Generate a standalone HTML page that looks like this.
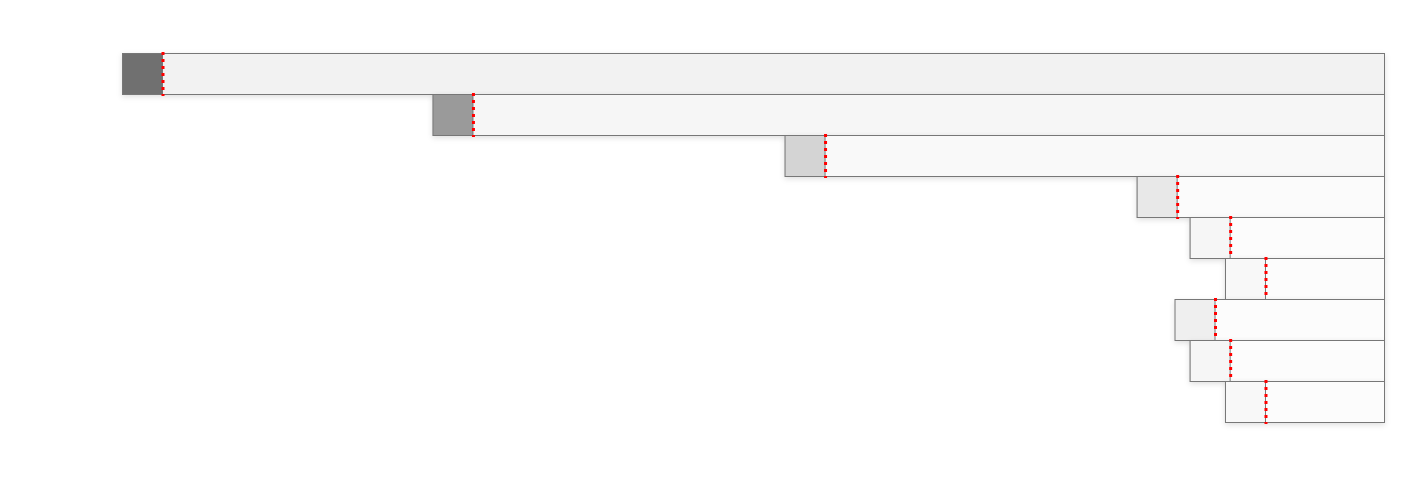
<!DOCTYPE html>
<html><head><meta charset="utf-8"><style>
html,body{margin:0;padding:0;background:#fff;width:1420px;height:477px;overflow:hidden;font-family:"Liberation Sans",sans-serif}
</style></head><body>
<svg id="chart" width="1420" height="477" xmlns="http://www.w3.org/2000/svg">
<defs>
<filter id="sh" x="-10%" y="-30%" width="130%" height="180%"><feDropShadow dx="0" dy="2" stdDeviation="3" flood-color="#000" flood-opacity="0.12"/></filter>
</defs>
<g id="rows"></g>
</svg>
<script>
const categories = ["r1","r2","r3","r4","r5","r6","r7","r8","r9"];
const startValues = [0, 24.6, 52.5, 80.4, 84.6, 87.4, 83.4, 84.6, 87.4];
const endValues = [100,100,100,100,100,100,100,100,100];
const squareFills = ["#707070","#9a9a9a","#d4d4d4","#e8e8e8","#f6f6f6","#f8f8f8","#efefef","#f6f6f6","#f8f8f8"];
const bandFills = ["#f2f2f2","#f6f6f6","#f9f9f9","#fbfbfb","#fcfcfc","#fcfcfc","#fcfcfc","#fcfcfc","#fcfcfc"];
const X0=122, X1=1384, Y0=53, RH=41, SQ=40;
function xs(v){return X0+(v/100)*(X1-X0);}
function ys(i){return Y0+i*RH;}
const g=document.getElementById('rows');
const NS='http://www.w3.org/2000/svg';
categories.forEach((c,i)=>{
  const x=xs(startValues[i]), xe=xs(endValues[i]), y=ys(i);
  const grp=document.createElementNS(NS,'g');
  
  
  const band=document.createElementNS(NS,'rect');
  
  
  band.setAttribute('x',x+0.5);band.setAttribute('y',y+0.5);
  band.setAttribute('width',xe-x);band.setAttribute('height',RH);
  band.setAttribute('fill',bandFills[i]);band.setAttribute('stroke','#777');band.setAttribute('stroke-width','1');
  band.setAttribute('filter','url(#sh)');
  grp.appendChild(band);
  const sq=document.createElementNS(NS,'rect');
  
  
  sq.setAttribute('x',x+0.5);sq.setAttribute('y',y+0.5);
  sq.setAttribute('width',SQ);sq.setAttribute('height',RH);
  sq.setAttribute('fill',squareFills[i]);sq.setAttribute('stroke','#777');sq.setAttribute('stroke-width','1');
  grp.appendChild(sq);
  const ln=document.createElementNS(NS,'line');
  
  
  ln.setAttribute('x1',x+SQ+1);ln.setAttribute('x2',x+SQ+1);
  ln.setAttribute('y1',y-1);ln.setAttribute('y2',y+RH+2);
  ln.setAttribute('stroke','#ff0000');ln.setAttribute('stroke-width','3');ln.setAttribute('stroke-dasharray','3 4');
  grp.appendChild(ln);
  g.appendChild(grp);
});
</script>
</body></html>
